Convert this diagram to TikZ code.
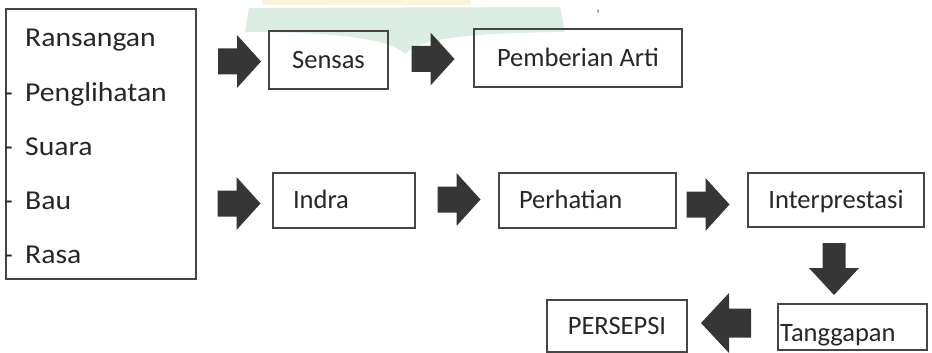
\documentclass[tikz,border=0pt]{standalone}
\usepackage{fontspec}
\setmainfont{Carlito}
\usepackage{xcolor}
\usepackage{graphicx}
\definecolor{BoxLine}{HTML}{454545}
\definecolor{ArrowFill}{HTML}{363636}
\definecolor{TextGray}{HTML}{262626}
\definecolor{MarkGreen}{HTML}{DCEDE3}
\definecolor{MarkYellow}{HTML}{FBF4DA}

\newcommand{\listword}[1]{\scalebox{1.12}[1.03]{#1}}

\tikzset{
  stepbox/.style={draw=BoxLine, line width=1.3pt, inner sep=0pt, text=TextGray,
    font=\fontsize{26.5}{31}\selectfont, text height=16.9pt, text depth=0pt},
  leftbox/.style={stepbox, align=left, inner xsep=20pt},
  itemtext/.style={anchor=base west, inner sep=0pt, text=TextGray, font=\fontsize{26.5}{31}\selectfont},
  rarrow/.pic={\fill[ArrowFill] (-21.5,-13) -- (-2.5,-13) -- (-2.5,-26.5) -- (21.5,0)
    -- (-2.5,26.5) -- (-2.5,13) -- (-21.5,13) -- cycle;},
  darrow/.pic={\fill[ArrowFill] (-11.5,-26) -- (11.5,-26) -- (11.5,-1) -- (25,-1)
    -- (0,26) -- (-25,-1) -- (-11.5,-1) -- cycle;},
  larrow/.pic={\fill[ArrowFill] (25,-14.5) -- (3,-14.5) -- (3,-30) -- (-25,0)
    -- (3,30) -- (3,14.5) -- (25,14.5) -- cycle;}
}

\begin{document}
\begin{tikzpicture}[x=1pt,y=-1pt]
  \useasboundingbox (0,0) rectangle (932,353);

  % faint mark of the page behind
  \fill[MarkYellow] (262,0) rectangle (470,5);
  \fill[MarkGreen] (249,8) -- (560,7) -- (565,32) .. controls (470,33) and (420,38) .. (405,54)
    .. controls (390,38) and (330,32) .. (245,32) -- cycle;
  \node[inner sep=0pt, text=TextGray, font=\fontsize{12}{12}\selectfont] (quote) at (598,14) {‘};

  % stimulus box
  \node[draw=BoxLine, line width=1.3pt, minimum width=190pt, minimum height=270pt, inner sep=0pt] (stimulus) at (101,144) {};
  \node[itemtext] (ransangan) at (25,47) {\listword{Ransangan}};
  \node[itemtext] (penglihatan) at (4.5,102) {\makebox[20.5pt][l]{-}\listword{Penglihatan}};
  \node[itemtext] (suara) at (4.5,155) {\makebox[20.5pt][l]{-}\listword{Suara}};
  \node[itemtext] (bau) at (4.5,209) {\makebox[20.5pt][l]{-}\listword{Bau}};
  \node[itemtext] (rasa) at (4.5,263) {\makebox[20.5pt][l]{-}\listword{Rasa}};

  % top row
  \pic (arrA) at (239.5,61.5) {rarrow};
  \node[stepbox, minimum width=119pt, minimum height=58pt] (sensas) at (328.5,60) {Sensas};
  \pic (arrB) at (433,59) {rarrow};
  \node[stepbox, minimum width=208pt, minimum height=58pt] (arti) at (578,58) {Pemberian Arti};

  % middle row
  \pic (arrC) at (239,203.5) {rarrow};
  \node[leftbox, text width=102pt, minimum height=55pt] (indra) at (344,200.5) {Indra};
  \pic (arrD) at (459,199.5) {rarrow};
  \node[leftbox, text width=137pt, minimum height=55pt] (perhatian) at (587.5,200.5) {Perhatian};
  \pic (arrE) at (708,204.5) {rarrow};
  \node[stepbox, minimum width=176pt, minimum height=54pt] (interp) at (836,200) {Interprestasi};

  % bottom row
  \pic (arrF) at (834,269) {darrow};
  \node[draw=BoxLine, line width=1.3pt, minimum width=149pt, minimum height=46pt, inner sep=0pt] (tanggapan) at (852.5,327) {};
  \begin{scope}
    \clip (tanggapan.south west) rectangle (tanggapan.north east);
    \node[itemtext] (tgptext) at (780,341) {Tanggapan};
  \end{scope}
  \pic (arrG) at (726,323) {larrow};
  \node[stepbox, minimum width=140pt, minimum height=52pt] (persepsi) at (617,326) {PERSEPSI};
\end{tikzpicture}
\end{document}
